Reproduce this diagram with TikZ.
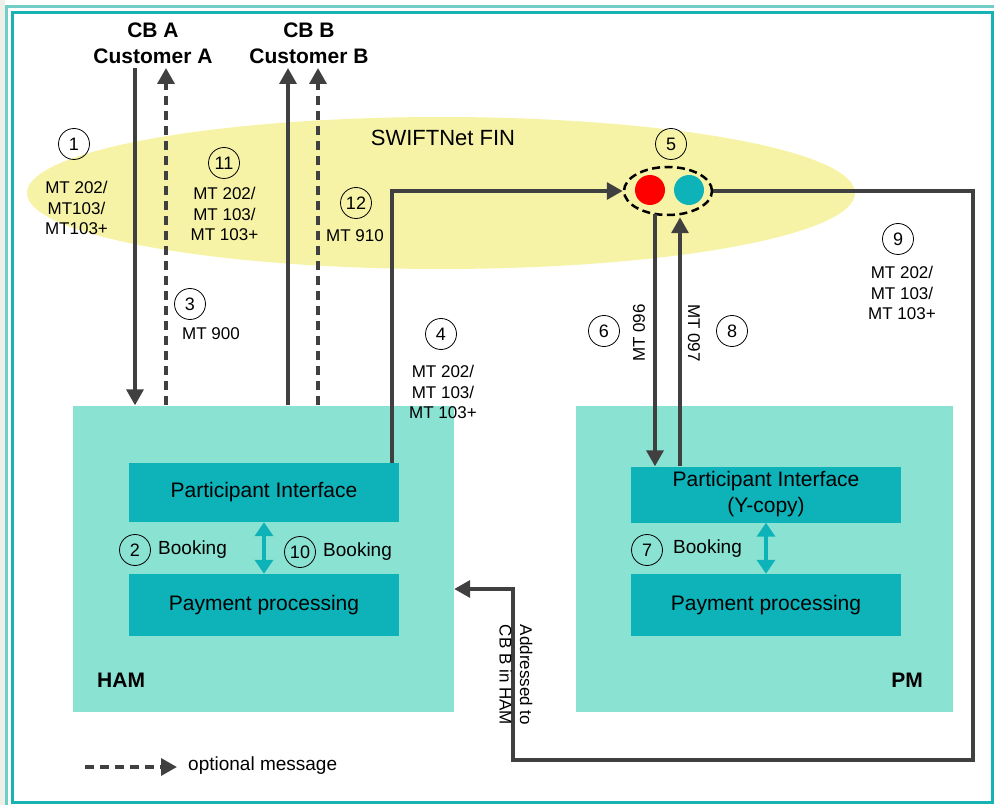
\documentclass[tikz,border=0pt]{standalone}
\usepackage{fontspec}
\setmainfont{Liberation Sans}
\usetikzlibrary{arrows.meta,shapes.geometric}
\definecolor{linegrey}{HTML}{404040}
\definecolor{boxlight}{HTML}{8AE2D3}
\definecolor{boxdark}{HTML}{0EB3BA}
\definecolor{finyellow}{HTML}{F7F3A6}
\definecolor{frameteal}{HTML}{17B3B3}
\definecolor{framelight}{HTML}{70CEC6}
\definecolor{dotred}{HTML}{FF0000}
\definecolor{stripgrey}{HTML}{EFEFEA}
\begin{document}
\begin{tikzpicture}[x=1pt,y=-1pt,
  conn/.style={draw=linegrey, line width=3.5pt},
  arr/.style={conn, -{Triangle[length=16pt,width=17pt]}},
  dasharr/.style={arr, dash pattern=on 9pt off 6pt},
  num/.style={circle, draw=black, line width=0.8pt, minimum size=31pt, inner sep=0pt, font=\fontsize{18}{20}\selectfont},
  msg/.style={align=center, font=\fontsize{17}{20.5}\selectfont, inner sep=0pt},
  bookl/.style={anchor=west, inner sep=0pt, font=\fontsize{19}{22}\selectfont},
  outerbox/.style={fill=boxlight, draw=none, inner sep=0pt, minimum height=306pt},
  innerbox/.style={fill=boxdark, draw=none, inner sep=0pt, align=center, font=\fontsize{21}{26}\selectfont, minimum width=270pt},
  titlel/.style={inner sep=0pt, font=\bfseries\fontsize{21}{26}\selectfont, align=center},
  bidir/.style={draw=boxdark, line width=4pt, {Triangle[length=14pt,width=18pt]}-{Triangle[length=14pt,width=18pt]}},
  dot/.style={circle, minimum size=30pt, inner sep=0pt, draw=none}
]
\useasboundingbox (0,0) rectangle (994,805);
% frame
\fill[stripgrey] (0,0) rectangle (5,805);
\draw[framelight, line width=3pt] (6.5,805) -- (6.5,6.5) -- (994,6.5);
\draw[frameteal, line width=3pt] (12.5,12.5) rectangle (992,802);

% SWIFTNet cloud
\node[ellipse, fill=finyellow, draw=none, minimum width=828pt, minimum height=152pt, inner sep=0pt] (fin) at (441,193) {};
\node[inner sep=0pt, font=\fontsize{22}{26}\selectfont] (finl) at (443,138) {SWIFTNet FIN};

% titles
\node[titlel] (cbA) at (153,43) {CB A\\Customer A};
\node[titlel] (cbB) at (309,43) {CB B\\Customer B};

% boxes
\node[outerbox, minimum width=381pt] (ham) at (263.5,558.5) {};
\node[outerbox, minimum width=377pt] (pm) at (764.5,558.5) {};
\node[innerbox, minimum height=59pt] (hamPI) at (264,492.5) {Participant Interface};
\node[innerbox, minimum height=62pt] (hamPP) at (264,605) {Payment processing};
\node[innerbox, minimum height=56pt] (pmPI) at (766,494.5) {Participant Interface\\(Y-copy)};
\node[innerbox, minimum height=62pt] (pmPP) at (766,605) {Payment processing};
\node[anchor=west, inner sep=0pt, font=\bfseries\fontsize{21}{26}\selectfont] (hamL) at (97,680) {HAM};
\node[inner sep=0pt, font=\bfseries\fontsize{21}{26}\selectfont] (pmL) at (907,680) {PM};

% booking arrows
\draw[bidir] (hamPI.south) -- (hamPP.north);
\draw[bidir] (pmPI.south) -- (pmPP.north);
\node[num] (n2) at (135,550) {2};
\node[bookl] (b2) at (158,550) {Booking};
\node[num] (n10) at (300,552) {10};
\node[bookl] (b10) at (323,552) {Booking};
\node[num] (n7) at (647,550) {7};
\node[bookl] (b7) at (673,549) {Booking};

% red/teal dots
\node[dot, fill=dotred] (reddot) at (650,190) {};
\node[dot, fill=boxdark] (tealdot) at (689,190) {};
\node[ellipse, draw=black, line width=2.5pt, dash pattern=on 8pt off 4.5pt, minimum width=88pt, minimum height=48pt, inner sep=0pt] (fin5) at (668,191) {};

% customer connectors
\coordinate (cA1) at (135,68);
\coordinate (cA2) at (166,68);
\coordinate (cB1) at (288,68);
\coordinate (cB2) at (318,68);
\draw[arr] (cA1) -- (cA1 |- ham.north);
\draw[dasharr] (cA2 |- ham.north) -- (cA2);
\draw[arr] (cB1 |- ham.north) -- (cB1);
\draw[dasharr] (cB2 |- ham.north) -- (cB2);

% HAM to SWIFT
\coordinate (c4) at (392,0);
\draw[arr] (hamPI.north -| c4) |- (fin5.west);

% SWIFT to PM and back
\coordinate (c96) at (655,0);
\coordinate (c97) at (680,0);
\draw[arr] (fin5.south -| c96) ++(0,-2) -- (pmPI.north -| c96);
\draw[arr] (pmPI.north -| c97) -- ([yshift=-1pt]fin5.south -| c97);

% PM to HAM loop
\coordinate (r1) at (973,760);
\coordinate (r2) at (513,760);
\coordinate (r3) at (513,589);
\draw[arr] (fin5.east) -| (r1) -- (r2) -- (r3) -- (ham.east |- r3);

% numbers and messages
\node[num] (n1) at (74,144) {1};
\node[msg] (m1) at (76.5,208) {MT 202/\\MT103/\\MT103+};
\node[num] (n11) at (224,163) {11};
\node[msg] (m11) at (224.5,214) {MT 202/\\MT 103/\\MT 103+};
\node[num] (n12) at (356,203) {12};
\node[msg] (m12) at (355,236) {MT 910};
\node[num] (n3) at (190,304) {3};
\node[msg] (m3) at (211,334) {MT 900};
\node[num] (n4) at (441,334) {4};
\node[msg] (m4) at (443,392) {MT 202/\\MT 103/\\MT 103+};
\node[num] (n5) at (671,144) {5};
\node[num] (n9) at (898,239) {9};
\node[msg] (m9) at (902,293) {MT 202/\\MT 103/\\MT 103+};
\node[num] (n6) at (604,331) {6};
\node[num] (n8) at (732,331) {8};
\node[msg, rotate=90] (m96) at (639,333) {MT 096};
\node[msg, rotate=-90] (m97) at (694,333) {MT 097};
\node[msg, rotate=-90] (addr) at (516,675) {Addressed to\\CB B in HAM};

% legend
\coordinate (lg1) at (85,767);
\coordinate (lg2) at (177,767);
\draw[dasharr] (lg1) -- (lg2);
\node[anchor=west, inner sep=0pt, font=\fontsize{19}{22}\selectfont] (lgt) at (188,766) {optional message};
\end{tikzpicture}
\end{document}
